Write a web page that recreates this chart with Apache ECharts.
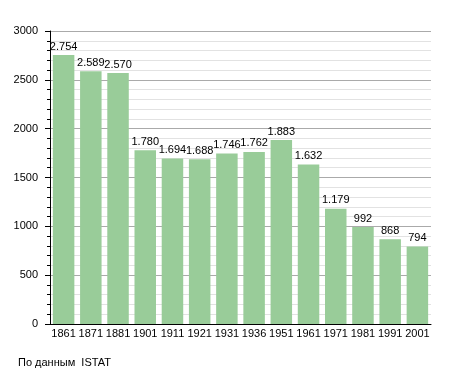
<!DOCTYPE html>
<html><head><meta charset="utf-8">
<script src="https://cdn.jsdelivr.net/npm/echarts@6/dist/echarts.min.js"></script>
<style>html,body{margin:0;padding:0;background:#fff}#c{width:455px;height:373px}</style>
</head><body><div id="c"></div>
<script>
const years = ['1861','1871','1881','1901','1911','1921','1931','1936','1951','1961','1971','1981','1991','2001'];
const population = [2754,2589,2570,1780,1694,1688,1746,1762,1883,1632,1179,992,868,794];
const yTicks = [0,500,1000,1500,2000,2500,3000];
const sourceText = 'По данным  ISTAT';

const chart = echarts.init(document.getElementById('c'), null, {renderer:'canvas'});
const fmt = v => v >= 1000 ? Math.floor(v/1000) + '.' + String(v%1000).padStart(3,'0') : String(v);
chart.setOption({
  animation:false,
  textStyle:{fontFamily:'Liberation Sans, Arial, sans-serif'},
  grid:{left:50,right:24,top:31,bottom:49,containLabel:false},
  graphic:[{type:'text',left:18,top:357,style:{text:sourceText,fontSize:11,fill:'#000',fontFamily:'Liberation Sans, Arial, sans-serif'}}],
  xAxis:{type:'category',data:years,
    axisLine:{lineStyle:{color:'#000',width:1}},
    axisTick:{show:false},
    axisLabel:{color:'#000',fontSize:11,margin:4,interval:0}},
  yAxis:{type:'value',min:yTicks[0],max:yTicks[yTicks.length-1],interval:500,
    axisLine:{show:true,lineStyle:{color:'#000',width:1}},
    axisTick:{show:true,length:5,lineStyle:{color:'#000'}},
    minorTick:{show:true,splitNumber:5,length:3,lineStyle:{color:'#000'}},
    axisLabel:{color:'#000',fontSize:11,margin:12,formatter:v=>String(v)},
    splitLine:{lineStyle:{color:'#aaa',width:1}},
    minorSplitLine:{show:true,lineStyle:{color:'#e2e2e2',width:1}}},
  series:[{type:'bar',data:population,barCategoryGap:'21%',
    itemStyle:{color:'#99cc99'},
    label:{show:true,position:'top',color:'#000',fontSize:11,distance:3,formatter:p=>fmt(p.value)}}]
});
</script></body></html>
